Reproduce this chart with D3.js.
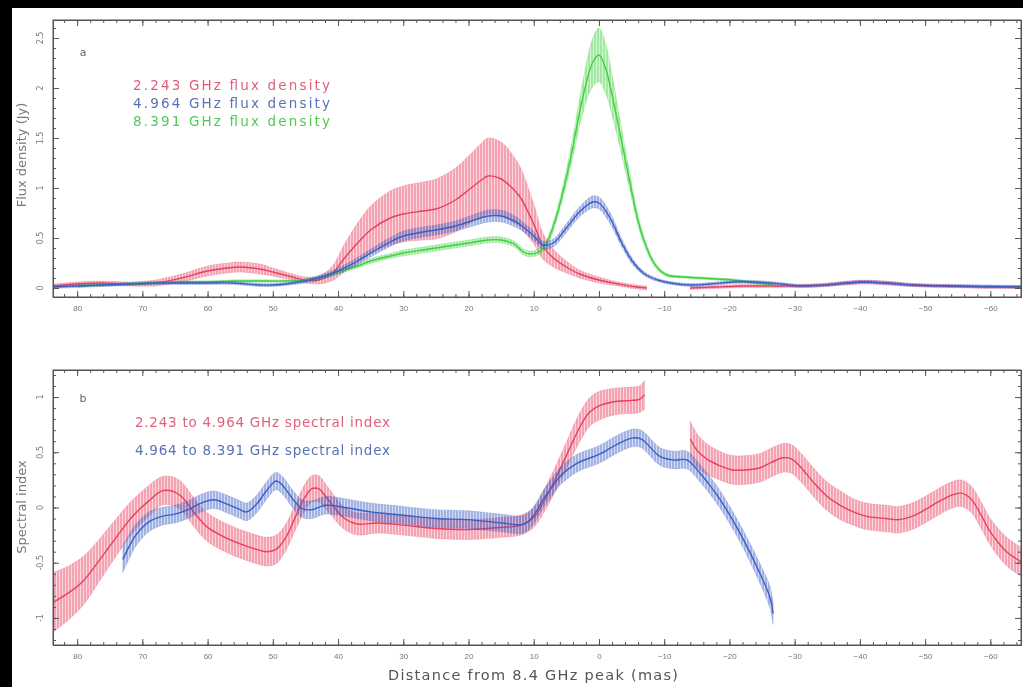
<!DOCTYPE html>
<html>
<head>
<meta charset="utf-8">
<script src="https://cdn.jsdelivr.net/npm/d3@7"></script>
<style>
  html, body { margin: 0; padding: 0; background: #000; }
  #viz svg { display: block; filter: blur(0.6px); }
</style>
</head>
<body>
<div id="viz"></div>
<script>
// ---- data (distance in mas, value, error) ----
// panel a: flux density (Jy)
var f224Dist = [83.7, 80, 76, 72, 68, 64, 60, 57, 55, 52, 50, 47, 45, 43, 41, 39, 37, 35, 32, 30, 27, 25, 22, 20, 18, 17, 15, 13, 12, 10, 8.6, 7, 5, 3, 0, -3, -5.2, -7.3];
var f224Val  = [0.02, 0.04, 0.05, 0.04, 0.05, 0.1, 0.17, 0.2, 0.21, 0.19, 0.16, 0.11, 0.08, 0.08, 0.14, 0.3, 0.45, 0.58, 0.7, 0.74, 0.77, 0.79, 0.88, 0.98, 1.08, 1.12, 1.09, 0.98, 0.9, 0.64, 0.42, 0.3, 0.21, 0.14, 0.08, 0.04, 0.015, 0.0];
var f224Err  = [0.02, 0.02, 0.02, 0.02, 0.03, 0.04, 0.05, 0.05, 0.05, 0.05, 0.04, 0.03, 0.03, 0.04, 0.07, 0.14, 0.2, 0.24, 0.27, 0.28, 0.29, 0.3, 0.32, 0.34, 0.37, 0.38, 0.37, 0.33, 0.3, 0.2, 0.13, 0.09, 0.06, 0.04, 0.03, 0.02, 0.02, 0.02];
var f224bDist = [-14, -18, -22, -26, -30, -34, -38, -41, -44, -48, -52, -56, -60, -65];
var f224bVal  = [0.0, 0.01, 0.02, 0.02, 0.02, 0.03, 0.05, 0.06, 0.05, 0.03, 0.02, 0.015, 0.01, 0.01];
var f224bErr  = [0.015, 0.015, 0.015, 0.015, 0.015, 0.015, 0.02, 0.02, 0.02, 0.015, 0.015, 0.015, 0.015, 0.015];

var f496Dist = [83.7, 80, 76, 72, 68, 64, 60, 56, 52, 50, 48, 45, 42, 40, 37, 35, 32, 30, 27, 25, 22, 20, 17, 15, 13, 12, 10, 8.6, 7, 5, 3, 1, 0, -1.7, -3.5, -5.2, -7, -9, -11, -14, -17, -20.5, -24, -28, -31, -35, -40, -44, -48, -55, -60, -65];
var f496Val  = [0.01, 0.02, 0.03, 0.04, 0.05, 0.05, 0.05, 0.05, 0.03, 0.03, 0.04, 0.07, 0.12, 0.17, 0.27, 0.35, 0.46, 0.52, 0.56, 0.58, 0.62, 0.66, 0.72, 0.72, 0.67, 0.63, 0.52, 0.43, 0.45, 0.6, 0.76, 0.86, 0.85, 0.7, 0.45, 0.26, 0.14, 0.08, 0.05, 0.03, 0.04, 0.06, 0.06, 0.04, 0.02, 0.03, 0.06, 0.05, 0.03, 0.02, 0.015, 0.01];
var f496Err  = [0.015, 0.015, 0.015, 0.015, 0.015, 0.015, 0.015, 0.015, 0.015, 0.015, 0.015, 0.02, 0.025, 0.03, 0.035, 0.04, 0.045, 0.05, 0.05, 0.05, 0.05, 0.055, 0.06, 0.06, 0.055, 0.05, 0.045, 0.04, 0.04, 0.045, 0.05, 0.06, 0.06, 0.055, 0.04, 0.03, 0.02, 0.015, 0.015, 0.015, 0.015, 0.015, 0.015, 0.015, 0.015, 0.015, 0.015, 0.015, 0.015, 0.015, 0.015, 0.015];

var f839Dist = [80, 76, 72, 68, 64, 60, 56, 52, 48, 45, 42, 40, 37, 35, 32, 30, 27, 25, 22, 20, 17, 15, 13, 11.6, 10.5, 9, 8, 6.5, 4.5, 2.5, 1, 0, -1, -2.1, -4.3, -6.3, -8, -9, -10.4, -13, -15.5, -18, -20.5, -23, -26.7];
var f839Val  = [0.02, 0.03, 0.04, 0.05, 0.06, 0.06, 0.07, 0.07, 0.07, 0.08, 0.12, 0.16, 0.22, 0.27, 0.32, 0.35, 0.38, 0.4, 0.43, 0.45, 0.48, 0.48, 0.44, 0.36, 0.34, 0.37, 0.45, 0.72, 1.25, 1.9, 2.25, 2.33, 2.2, 1.9, 1.2, 0.6, 0.3, 0.2, 0.13, 0.11, 0.1, 0.09, 0.08, 0.06, 0.03];
var f839Err  = [0.012, 0.012, 0.012, 0.012, 0.012, 0.012, 0.012, 0.012, 0.012, 0.012, 0.015, 0.02, 0.02, 0.025, 0.025, 0.03, 0.03, 0.03, 0.03, 0.03, 0.03, 0.03, 0.03, 0.03, 0.03, 0.03, 0.04, 0.05, 0.09, 0.16, 0.24, 0.27, 0.25, 0.2, 0.1, 0.05, 0.03, 0.02, 0.015, 0.012, 0.012, 0.012, 0.012, 0.012, 0.012];

// panel b: spectral index
var s1Dist = [83.7, 81, 79, 76.5, 74, 71.5, 69, 67, 65.5, 64, 62, 60, 57, 55, 53, 51, 49.5, 48, 46.5, 45, 44, 43, 41.5, 39, 37, 34, 30, 25, 20, 15, 12, 10, 8.5, 7, 5, 3, 1.5, 0, -2.5, -5, -6.2, -7];
var s1Val  = [-0.86, -0.76, -0.66, -0.47, -0.27, -0.08, 0.06, 0.15, 0.15, 0.1, -0.05, -0.18, -0.28, -0.33, -0.37, -0.4, -0.38, -0.27, -0.08, 0.1, 0.17, 0.17, 0.07, -0.1, -0.15, -0.14, -0.16, -0.19, -0.2, -0.18, -0.16, -0.09, 0.05, 0.22, 0.47, 0.72, 0.86, 0.92, 0.96, 0.97, 0.98, 1.02];
var s1Err  = [0.27, 0.24, 0.22, 0.19, 0.17, 0.15, 0.14, 0.13, 0.13, 0.13, 0.13, 0.13, 0.13, 0.13, 0.13, 0.13, 0.13, 0.12, 0.12, 0.12, 0.12, 0.12, 0.11, 0.1, 0.1, 0.09, 0.09, 0.09, 0.09, 0.09, 0.09, 0.09, 0.1, 0.11, 0.12, 0.13, 0.13, 0.13, 0.12, 0.12, 0.12, 0.13];
var s1bDist = [-14, -15, -16.5, -18.5, -20.5, -22.5, -24.7, -26.5, -28.2, -29.5, -31, -33, -35, -37, -39, -41, -44, -46, -48, -50, -52, -54, -55.5, -57, -58.5, -60, -62.5, -65];
var s1bVal  = [0.62, 0.52, 0.44, 0.38, 0.34, 0.34, 0.36, 0.41, 0.45, 0.44, 0.36, 0.22, 0.1, 0.02, -0.04, -0.08, -0.1, -0.11, -0.08, -0.02, 0.05, 0.11, 0.13, 0.08, -0.06, -0.22, -0.4, -0.5];
var s1bErr  = [0.16, 0.15, 0.14, 0.13, 0.13, 0.13, 0.13, 0.13, 0.13, 0.13, 0.13, 0.13, 0.13, 0.13, 0.12, 0.12, 0.12, 0.12, 0.12, 0.12, 0.12, 0.12, 0.12, 0.12, 0.12, 0.12, 0.13, 0.13];

var s2Dist = [73, 72, 71, 69, 67, 65, 63, 61, 59, 57, 55, 54, 52.5, 51, 49.5, 48.5, 47, 45.5, 44, 42, 39, 35, 30, 25, 20, 15, 11.5, 10, 8.6, 7, 6, 3.4, 0, -2.7, -5.2, -6.5, -7.3, -9.4, -11.4, -13.5, -15.5, -17, -18.6, -21.6, -24.7, -26.2, -26.7];
var s2Val  = [-0.47, -0.35, -0.25, -0.13, -0.08, -0.06, -0.02, 0.04, 0.07, 0.03, -0.02, -0.04, 0.03, 0.15, 0.24, 0.2, 0.08, -0.01, -0.02, 0.02, 0.0, -0.04, -0.07, -0.1, -0.11, -0.14, -0.15, -0.07, 0.07, 0.2, 0.28, 0.4, 0.48, 0.57, 0.63, 0.62, 0.58, 0.46, 0.43, 0.43, 0.31, 0.2, 0.07, -0.23, -0.6, -0.81, -0.96];
var s2Err  = [0.12, 0.11, 0.1, 0.09, 0.08, 0.08, 0.08, 0.08, 0.08, 0.08, 0.08, 0.08, 0.08, 0.08, 0.08, 0.08, 0.08, 0.08, 0.08, 0.08, 0.08, 0.08, 0.08, 0.08, 0.08, 0.08, 0.08, 0.08, 0.08, 0.08, 0.08, 0.08, 0.08, 0.08, 0.08, 0.08, 0.08, 0.08, 0.08, 0.08, 0.08, 0.08, 0.08, 0.08, 0.09, 0.1, 0.1];

// tick values
var xMajor = [80, 70, 60, 50, 40, 30, 20, 10, 0, -10, -20, -30, -40, -50, -60];
var yTopMajor = [0, 0.5, 1, 1.5, 2, 2.5];
var yBotMajor = [-1, -0.5, 0, 0.5, 1];

var red = "#e8405f", blue = "#3d5ec4", green = "#3fd13f";

// ---- svg ----
var W = 1023, H = 687;
var svg = d3.select("#viz").append("svg")
  .attr("width", W).attr("height", H)
  .style("font-family", "'DejaVu Sans', sans-serif");

svg.append("rect").attr("width", W).attr("height", H).attr("fill", "#000");
svg.append("rect").attr("x", 12).attr("y", 8).attr("width", W - 12).attr("height", H - 8).attr("fill", "#fff");

var defs = svg.append("defs");
[["red", red], ["blue", blue], ["green", green]].forEach(function (c) {
  var p = defs.append("pattern")
    .attr("id", "hatch-" + c[0])
    .attr("patternUnits", "userSpaceOnUse")
    .attr("width", 3).attr("height", 20);
  p.append("rect").attr("width", 3).attr("height", 20).attr("fill", c[1]).attr("opacity", 0.22);
  p.append("line").attr("x1", 1).attr("x2", 1).attr("y1", 0).attr("y2", 20)
    .attr("stroke", c[1]).attr("stroke-width", 0.9).attr("opacity", 0.75);
});

var x = d3.scaleLinear().domain([83.7, -64.7]).range([53, 1021]);
var yTop = d3.scaleLinear().domain([-0.09, 2.68]).range([297, 20]);
var yBot = d3.scaleLinear().domain([-1.245, 1.245]).range([645, 370]);

function zip(dist, val, err) {
  return dist.map(function (d, i) { return {x: d, v: val[i], e: err[i]}; });
}

function panel(id, top, bottom) {
  defs.append("clipPath").attr("id", "clip-" + id)
    .append("rect").attr("x", 53).attr("y", top).attr("width", 968).attr("height", bottom - top);
  return svg.append("g").attr("clip-path", "url(#clip-" + id + ")");
}

// band of error bars + centre line
function drawBand(g, y, data, name, color) {
  var curve = d3.curveCatmullRom.alpha(0.5);
  var area = d3.area()
    .x(function (d) { return x(d.x); })
    .y0(function (d) { return y(d.v - d.e); })
    .y1(function (d) { return y(d.v + d.e); })
    .curve(curve);
  var line = d3.line()
    .x(function (d) { return x(d.x); })
    .y(function (d) { return y(d.v); })
    .curve(curve);
  g.append("path").datum(data).attr("d", area)
    .attr("fill", "url(#hatch-" + name + ")")
    .attr("stroke", color).attr("stroke-opacity", 0.35).attr("stroke-width", 0.6);
  g.append("path").datum(data).attr("d", line)
    .attr("fill", "none").attr("stroke", color).attr("stroke-width", 1.4);
}

function axes(y, top, bottom, yMajor, yMinorStep) {
  var g = svg.append("g").attr("class", "axes");
  var xMinor = d3.range(-64, 84, 2);
  var yd = y.domain();
  var yMinor = d3.range(Math.ceil(yd[0] / yMinorStep) * yMinorStep, yd[1], yMinorStep);

  g.append("g").attr("transform", "translate(0," + bottom + ")")
    .call(d3.axisBottom(x).tickValues(xMinor).tickSize(-3).tickFormat(""));
  g.append("g").attr("transform", "translate(0," + bottom + ")")
    .call(d3.axisBottom(x).tickValues(xMajor).tickSize(-6).tickPadding(8).tickFormat(d3.format("d")));
  g.append("g").attr("transform", "translate(0," + top + ")")
    .call(d3.axisTop(x).tickValues(xMinor).tickSize(-3).tickFormat(""));
  g.append("g").attr("transform", "translate(0," + top + ")")
    .call(d3.axisTop(x).tickValues(xMajor).tickSize(-6).tickFormat(""));

  g.append("g").attr("transform", "translate(53,0)")
    .call(d3.axisLeft(y).tickValues(yMinor).tickSize(-3).tickFormat(""));
  g.append("g").attr("transform", "translate(53,0)")
    .call(d3.axisLeft(y).tickValues(yMajor).tickSize(-6).tickFormat(""));
  g.append("g").attr("transform", "translate(1021,0)")
    .call(d3.axisRight(y).tickValues(yMinor).tickSize(-3).tickFormat(""));
  g.append("g").attr("transform", "translate(1021,0)")
    .call(d3.axisRight(y).tickValues(yMajor).tickSize(-6).tickFormat(""));

  g.selectAll(".domain").attr("stroke", "#555");
  g.selectAll(".tick line").attr("stroke", "#555");
  g.selectAll(".tick text").attr("fill", "#777").style("font-size", "8px");

  // rotated y tick labels
  g.selectAll(".ylab").data(yMajor).enter().append("text")
    .attr("transform", function (d) { return "translate(40," + y(d) + ") rotate(-90)"; })
    .attr("text-anchor", "middle").attr("dy", "0.35em")
    .attr("fill", "#777").style("font-size", "8px")
    .text(function (d) { return d; });

  g.append("rect").attr("x", 53).attr("y", top).attr("width", 968).attr("height", bottom - top)
    .attr("fill", "none").attr("stroke", "#555");
}

// ---- panel a ----
var ga = panel("a", 20, 297);
drawBand(ga, yTop, zip(f224Dist, f224Val, f224Err), "red", red);
drawBand(ga, yTop, zip(f224bDist, f224bVal, f224bErr), "red", red);
drawBand(ga, yTop, zip(f839Dist, f839Val, f839Err), "green", green);
drawBand(ga, yTop, zip(f496Dist, f496Val, f496Err), "blue", blue);
axes(yTop, 20, 297, yTopMajor, 0.1);

// ---- panel b ----
var gb = panel("b", 370, 645);
drawBand(gb, yBot, zip(s1Dist, s1Val, s1Err), "red", red);
drawBand(gb, yBot, zip(s1bDist, s1bVal, s1bErr), "red", red);
drawBand(gb, yBot, zip(s2Dist, s2Val, s2Err), "blue", blue);
axes(yBot, 370, 645, yBotMajor, 0.1);

// ---- labels ----
svg.append("text").attr("x", 83).attr("y", 56).attr("text-anchor", "middle")
  .attr("fill", "#666").style("font-size", "11px").text("a");
svg.append("text").attr("x", 83).attr("y", 402).attr("text-anchor", "middle")
  .attr("fill", "#666").style("font-size", "11px").text("b");

var legA = [["2.243 GHz flux density", "#e0607a"], ["4.964 GHz flux density", "#5a72b4"], ["8.391 GHz flux density", "#55c855"]];
svg.selectAll(".legA").data(legA).enter().append("text")
  .attr("x", 133).attr("y", function (d, i) { return 90 + i * 18; })
  .attr("textLength", 197).attr("lengthAdjust", "spacing")
  .attr("fill", function (d) { return d[1]; })
  .style("font-size", "13.5px").text(function (d) { return d[0]; });

var legB = [["2.243 to 4.964 GHz spectral index", "#e0607a"], ["4.964 to 8.391 GHz spectral index", "#5a72b4"]];
svg.selectAll(".legB").data(legB).enter().append("text")
  .attr("x", 135).attr("y", function (d, i) { return 427 + i * 28; })
  .attr("textLength", 255).attr("lengthAdjust", "spacing")
  .attr("fill", function (d) { return d[1]; })
  .style("font-size", "13.5px").text(function (d) { return d[0]; });

svg.append("text").attr("transform", "translate(26,155) rotate(-90)")
  .attr("text-anchor", "middle").attr("fill", "#777").style("font-size", "13px")
  .text("Flux density (Jy)");
svg.append("text").attr("transform", "translate(26,507) rotate(-90)")
  .attr("text-anchor", "middle").attr("fill", "#777").style("font-size", "13px")
  .text("Spectral index");
svg.append("text").attr("x", 533).attr("y", 680).attr("text-anchor", "middle")
  .attr("textLength", 290).attr("lengthAdjust", "spacing")
  .attr("fill", "#555").style("font-size", "14.5px")
  .text("Distance from 8.4 GHz peak (mas)");
</script>
</body>
</html>
